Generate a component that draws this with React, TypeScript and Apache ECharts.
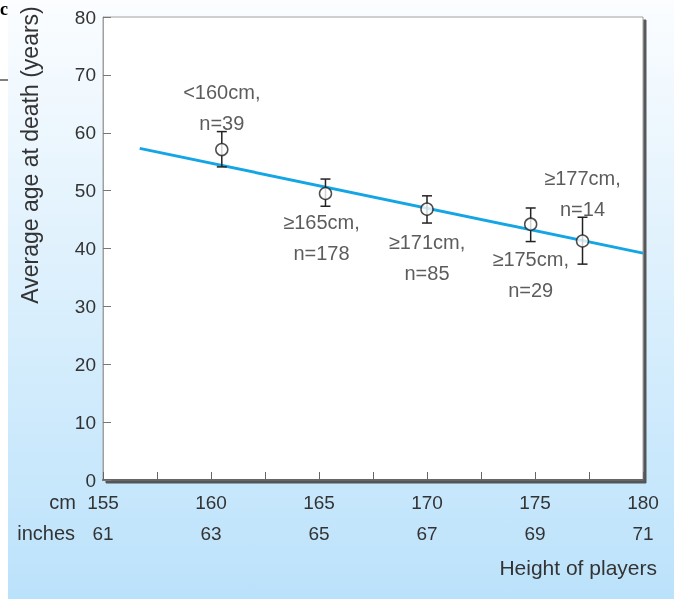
import React, { useEffect, useRef } from "react";
import * as echarts from "echarts";

// ---- data ----
const groupLabels = ["<160cm,", "≥165cm,", "≥171cm,", "≥175cm,", "≥177cm,"];
const groupCounts = ["n=39", "n=178", "n=85", "n=29", "n=14"];
const heightsCm = [160.5, 165.3, 170.0, 174.8, 177.2];
const meanAge = [57.1, 49.5, 46.8, 44.2, 41.3];
const ciLow = [54.1, 47.3, 44.4, 41.2, 37.3];
const ciHigh = [60.2, 52.0, 49.1, 47.0, 45.4];
const fitX = [156.7, 180];
const fitY = [57.3, 39.2];
const cmTicks = [155, 160, 165, 170, 175, 180];
const inchTicks = [61, 63, 65, 67, 69, 71];
const yTicks = [0, 10, 20, 30, 40, 50, 60, 70, 80];

const labelPos = ["top", "bottom", "bottom", "bottom", "top"];
const labelDist = [4, 6, 11, 13, 10];
const labelDx = [0, -4, 0, 0, 0];

const FONT = "'Liberation Sans', Arial, sans-serif";
const TXT = "#333";

export default function App() {
  const ref = useRef<HTMLDivElement>(null);
  useEffect(() => {
    const chart = echarts.init(ref.current!, null, { renderer: "svg" });
    const option: any = {
      animation: false,
      textStyle: { fontFamily: FONT },
      graphic: [
        {
          type: "rect",
          z: -10,
          silent: true,
          shape: { x: 8, y: 0, width: 666, height: 599 },
          style: {
            fill: new echarts.graphic.LinearGradient(0, 0, 0, 1, [
              { offset: 0, color: "#fbfdff" },
              { offset: 0.35, color: "#e4f3fd" },
              { offset: 1, color: "#bbe2fb" },
            ]),
          },
        },
        { type: "rect", z: -11, shape: { x: 0, y: 0, width: 8, height: 599 }, style: { fill: "#fff" } },
        {
          type: "text",
          x: 0,
          y: 0,
          style: { text: "c", font: "bold 18px 'Liberation Serif', serif", fill: "#000" },
        },
        { type: "line", shape: { x1: 0, y1: 80, x2: 8, y2: 80 }, style: { stroke: "#000", lineWidth: 1 } },
        {
          type: "text",
          x: 30,
          y: 155,
          rotation: Math.PI / 2,
          style: {
            text: "Average age at death (years)",
            fontFamily: FONT,
            fontSize: 23,
            fill: TXT,
            align: "center",
            verticalAlign: "middle",
          },
        },
        {
          type: "text",
          x: 76,
          y: 502,
          style: { text: "cm", fontFamily: FONT, fontSize: 20, fill: TXT, align: "right", verticalAlign: "middle" },
        },
        {
          type: "text",
          x: 75,
          y: 533,
          style: { text: "inches", fontFamily: FONT, fontSize: 20, fill: TXT, align: "right", verticalAlign: "middle" },
        },
        {
          type: "text",
          x: 657,
          y: 567,
          style: {
            text: "Height of players",
            fontFamily: FONT,
            fontSize: 21,
            fill: TXT,
            align: "right",
            verticalAlign: "middle",
          },
        },
      ],
      grid: {
        left: 103,
        top: 17,
        width: 540,
        height: 463,
        show: true,
        backgroundColor: "#fff",
        borderColor: "#a0a0a0",
        borderWidth: 1,
        shadowColor: "rgba(70,70,70,0.9)",
        shadowOffsetX: 3,
        shadowOffsetY: 3,
        shadowBlur: 0,
      },
      xAxis: {
        type: "value",
        min: 155,
        max: 180,
        interval: 2.5,
        splitLine: { show: false },
        axisLine: { show: true, lineStyle: { color: "#666", width: 2 } },
        axisTick: { show: true, inside: true, length: 8, lineStyle: { color: "#666" } },
        axisLabel: {
          margin: 7,
          fontSize: 19,
          color: TXT,
          lineHeight: 31,
          fontFamily: FONT,
          formatter: (v: number) => {
            const i = cmTicks.indexOf(v);
            return i < 0 ? "" : `${cmTicks[i]}\n${inchTicks[i]}`;
          },
        },
      },
      yAxis: {
        type: "value",
        min: yTicks[0],
        max: yTicks[yTicks.length - 1],
        interval: 10,
        splitLine: { show: false },
        axisLine: { show: true, lineStyle: { color: "#a0a0a0", width: 1 } },
        axisTick: { show: true, inside: true, length: 8, lineStyle: { color: "#777" } },
        axisLabel: { margin: 7, fontSize: 19, color: TXT, fontFamily: FONT },
      },
      series: [
        {
          type: "line",
          z: 2,
          data: fitX.map((x, i) => [x, fitY[i]]),
          showSymbol: false,
          symbol: "none",
          lineStyle: { color: "#14a5e4", width: 3 },
          silent: true,
        },
        {
          type: "custom",
          z: 3,
          data: heightsCm.map((x, i) => [x, ciLow[i], ciHigh[i]]),
          renderItem: (params: any, api: any) => {
            const lo = api.coord([api.value(0), api.value(1)]);
            const hi = api.coord([api.value(0), api.value(2)]);
            const hw = 5;
            const st = { stroke: "#222", lineWidth: 1.5 };
            return {
              type: "group",
              children: [
                { type: "line", shape: { x1: lo[0], y1: lo[1], x2: hi[0], y2: hi[1] }, style: st },
                { type: "line", shape: { x1: lo[0] - hw, y1: lo[1], x2: lo[0] + hw, y2: lo[1] }, style: st },
                { type: "line", shape: { x1: hi[0] - hw, y1: hi[1], x2: hi[0] + hw, y2: hi[1] }, style: st },
              ],
            };
          },
        },
        {
          type: "scatter",
          z: 4,
          symbol: "circle",
          symbolSize: 12,
          itemStyle: { color: "#fff", borderColor: "#222", borderWidth: 1.5 },
          data: heightsCm.map((x, i) => ({
            value: [x, meanAge[i]],
            label: {
              show: true,
              position: labelPos[i],
              distance: labelDist[i],
              offset: [labelDx[i], 0],
              formatter: `${groupLabels[i]}\n${groupCounts[i]}`,
              fontSize: 20,
              lineHeight: 31,
              color: TXT,
              fontFamily: FONT,
              align: "center",
            },
          })),
        },
      ],
    };
    chart.setOption(option);
    return () => chart.dispose();
  }, []);
  return (
    <div
      ref={ref}
      style={{ position: "fixed", left: 0, top: 0, width: 674, height: 599 }}
    />
  );
}
